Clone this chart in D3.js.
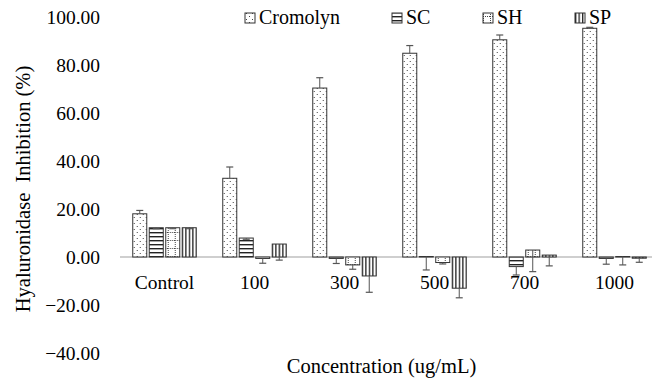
<!DOCTYPE html>
<html>
<head>
<meta charset="utf-8">
<script src="https://cdn.jsdelivr.net/npm/d3@7"></script>
<style>
  html, body { margin: 0; padding: 0; background: #fff; }
  svg { display: block; font-family: "Liberation Serif", "Times New Roman", serif; }
</style>
</head>
<body>
<svg id="chart" width="664" height="381"></svg>
<script>
// Hyaluronidase inhibition (%) by concentration
const categories = ["Control", "100", "300", "500", "700", "1000"];
const seriesNames = ["Cromolyn", "SC", "SH", "SP"];
const cromolyn = [18.0, 32.8, 70.4, 84.9, 90.5, 95.3];
const sc = [12.2, 7.9, -0.6, 0.2, -4.0, -0.6];
const sh = [12.2, -0.6, -3.3, -2.3, 2.9, 0.2];
const sp = [12.2, 5.4, -7.9, -13.0, 0.8, -0.5];
const cromolynErr = [1.4, 4.7, 4.3, 3.2, 2.0, 0.4];
const scErr = [0.4, 0.5, 2.1, 5.6, 3.5, 2.4];
const shErr = [0.4, 2.0, 1.8, 0.6, 9.0, 3.5];
const spErr = [0.4, 6.7, 6.8, 4.0, 4.5, 1.7];
const yTicks = [-40, -20, 0, 20, 40, 60, 80, 100];

const seriesValues = [cromolyn, sc, sh, sp];
const seriesErrors = [cromolynErr, scErr, shErr, spErr];
// Cromolyn bars carry upward error bars, the extracts downward ones
const errorSign = [1, -1, -1, -1];

const svg = d3.select("#chart");
const defs = svg.append("defs");

// Fill patterns
const pDots = defs.append("pattern").attr("id", "p-dots")
  .attr("patternUnits", "userSpaceOnUse").attr("width", 6).attr("height", 6);
pDots.append("rect").attr("width", 6).attr("height", 6).attr("fill", "#fff");
pDots.append("rect").attr("x", 1).attr("y", 1).attr("width", 1).attr("height", 1).attr("fill", "#444");
pDots.append("rect").attr("x", 4).attr("y", 4).attr("width", 1).attr("height", 1).attr("fill", "#444");

const pHoriz = defs.append("pattern").attr("id", "p-horiz")
  .attr("patternUnits", "userSpaceOnUse").attr("width", 4).attr("height", 4);
pHoriz.append("rect").attr("width", 4).attr("height", 4).attr("fill", "#fff");
pHoriz.append("rect").attr("y", 0).attr("width", 4).attr("height", 1.4).attr("fill", "#222");

const pGrid = defs.append("pattern").attr("id", "p-grid")
  .attr("patternUnits", "userSpaceOnUse").attr("width", 7).attr("height", 8);
pGrid.append("rect").attr("width", 7).attr("height", 8).attr("fill", "#fff");
pGrid.append("line").attr("x1", 0).attr("x2", 7).attr("y1", 0.5).attr("y2", 0.5)
  .attr("stroke", "#444").attr("stroke-width", 1).attr("stroke-dasharray", "1,1");
pGrid.append("line").attr("x1", 0.5).attr("x2", 0.5).attr("y1", 0).attr("y2", 8)
  .attr("stroke", "#444").attr("stroke-width", 1).attr("stroke-dasharray", "1,1");

const pVert = defs.append("pattern").attr("id", "p-vert")
  .attr("patternUnits", "userSpaceOnUse").attr("width", 3.5).attr("height", 4);
pVert.append("rect").attr("width", 3.5).attr("height", 4).attr("fill", "#fff");
pVert.append("rect").attr("x", 0).attr("width", 1.3).attr("height", 4).attr("fill", "#222");

const fills = ["url(#p-dots)", "url(#p-horiz)", "url(#p-grid)", "url(#p-vert)"];

// Scales
const x0 = d3.scaleBand().domain(categories).range([119.5, 659.5]).padding(0);
const groupWidth = 63.5;
const x1 = d3.scaleBand().domain(seriesNames).range([0, groupWidth]).paddingInner(0.15).paddingOuter(0);
const y = d3.scaleLinear().domain([-40, 100]).range([353, 17]);

// Y tick labels (no axis line)
const yAxis = d3.axisLeft(y).tickValues(yTicks).tickFormat(d3.format(".2f")).tickSize(0).tickPadding(0);
const yg = svg.append("g").attr("transform", "translate(100,0)").call(yAxis);
yg.select(".domain").remove();
yg.attr("font-family", null);
yg.selectAll("text")
  .style("font-family", "'Liberation Serif', serif")
  .attr("font-size", 19.5).attr("fill", "#000");

// Baseline at zero
svg.append("line")
  .attr("x1", 120).attr("x2", 652)
  .attr("y1", y(0)).attr("y2", y(0))
  .attr("stroke", "#bfbfbf").attr("stroke-width", 1.3);

// Bars
const groups = svg.append("g").selectAll("g")
  .data(categories)
  .join("g")
  .attr("transform", c => `translate(${x0(c) + (x0.bandwidth() - groupWidth) / 2},0)`);

groups.each(function(c, ci) {
  const g = d3.select(this);
  seriesNames.forEach((s, si) => {
    const v = seriesValues[si][ci];
    g.append("rect")
      .attr("x", x1(s)).attr("width", x1.bandwidth())
      .attr("y", Math.min(y(v), y(0)))
      .attr("height", Math.abs(y(v) - y(0)))
      .attr("fill", fills[si])
      .attr("stroke", "#333").attr("stroke-width", 1);
  });
});

// Error bars
groups.each(function(c, ci) {
  const g = d3.select(this);
  seriesNames.forEach((s, si) => {
    const v = seriesValues[si][ci];
    const e = seriesErrors[si][ci];
    const cx = x1(s) + x1.bandwidth() / 2;
    const end = v + errorSign[si] * e;
    g.append("line")
      .attr("x1", cx).attr("x2", cx)
      .attr("y1", y(v)).attr("y2", y(end))
      .attr("stroke", "#555").attr("stroke-width", 1);
    g.append("line")
      .attr("x1", cx - 3.5).attr("x2", cx + 3.5)
      .attr("y1", y(end)).attr("y2", y(end))
      .attr("stroke", "#555").attr("stroke-width", 1.2);
  });
});

// Category labels
svg.append("g").selectAll("text")
  .data(categories)
  .join("text")
  .attr("x", c => x0(c) + x0.bandwidth() / 2)
  .attr("y", 289)
  .attr("text-anchor", "middle")
  .attr("font-size", 19.5)
  .text(c => c);

// Axis titles
svg.append("text")
  .attr("x", 381.5).attr("y", 373)
  .attr("text-anchor", "middle")
  .attr("font-size", 20.5)
  .text("Concentration (ug/mL)");

svg.append("text")
  .attr("transform", "translate(29.5,189) rotate(-90)")
  .attr("text-anchor", "middle")
  .attr("font-size", 20.5)
  .style("white-space", "pre")
  .text("Hyaluronidase  Inhibition (%)");

// Legend
const legendX = [245, 392, 483, 575];
const legend = svg.append("g").selectAll("g")
  .data(seriesNames)
  .join("g")
  .attr("transform", (d, i) => `translate(${legendX[i]},0)`);
legend.append("rect")
  .attr("x", 0).attr("y", 13).attr("width", 10).attr("height", 10)
  .attr("fill", (d, i) => fills[i])
  .attr("stroke", "#333").attr("stroke-width", 1);
legend.append("text")
  .attr("x", 14).attr("y", 24)
  .attr("font-size", 20)
  .text(d => d);
</script>
</body>
</html>
